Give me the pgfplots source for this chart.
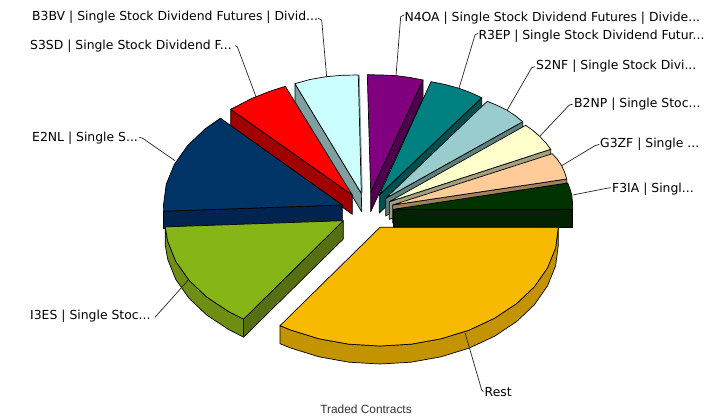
\documentclass[border=0pt]{standalone}
\usepackage{fontspec}
\setmainfont{DejaVu Sans}
\newfontfamily\arialf{Liberation Sans}
\usepackage{pgfplots}
\pgfplotsset{compat=1.18}
\definecolor{purS}{RGB}{80,0,80}\definecolor{purT}{RGB}{128,0,128}
\definecolor{teaS}{RGB}{0,80,80}\definecolor{teaT}{RGB}{0,128,128}
\definecolor{ltS}{RGB}{96,128,128}\definecolor{ltT}{RGB}{153,204,204}
\definecolor{crS}{RGB}{160,160,128}\definecolor{crT}{RGB}{255,255,204}
\definecolor{peS}{RGB}{160,128,96}\definecolor{peT}{RGB}{255,204,153}
\definecolor{dgS}{RGB}{0,34,0}\definecolor{dgT}{RGB}{0,51,0}
\definecolor{cyS}{RGB}{126,160,160}\definecolor{cyT}{RGB}{204,255,255}
\definecolor{reS}{RGB}{160,0,0}\definecolor{reT}{RGB}{255,0,0}
\definecolor{naS}{RGB}{0,35,79}\definecolor{naT}{RGB}{0,51,102}
\definecolor{grA}{RGB}{110,143,20}\definecolor{grS}{RGB}{86,111,16}\definecolor{grT}{RGB}{134,181,23}
\definecolor{goS}{RGB}{196,147,0}\definecolor{goT}{RGB}{248,186,0}
\pgfplotsset{face/.style={draw=black,line width=0.7pt,line join=round,fill=#1,no markers},
leader/.style={draw=black!85,line width=0.7pt,line join=round,no markers}}
\newcommand{\lab}[3]{\node[anchor=west,inner sep=0pt,font=\fontsize{12.4}{14}\selectfont,text=black] at (axis cs:#1,#2) {#3};}
\begin{document}
\begin{tikzpicture}
\path[use as bounding box] (0,0) rectangle (721pt,419pt);
\begin{axis}[scale only axis,width=721pt,height=419pt,xmin=0,xmax=721,ymin=0,ymax=419,y dir=reverse,hide axis,clip=false]
% N4OA
\addplot[face=purS] coordinates {(423,80)(423,98)(370.7,211.7)(370.7,192.3)} --cycle;
\addplot[face=purT] coordinates {(370.7,192.3)(367.3,74.7)(382,75)(396.7,75.7)(410,77.5)(423,80)} --cycle;
% R3EP
\addplot[face=teaS] coordinates {(481.7,97.7)(481.7,115.7)(379.3,213)(379.3,195)} --cycle;
\addplot[face=teaT] coordinates {(379.3,195)(431,81.7)(445,84.5)(459,88.3)(471,92.8)(481.7,97.7)} --cycle;
% S2NF
\addplot[face=ltS] coordinates {(522.7,121.7)(522.7,139)(385.7,216)(385.7,198.3)} --cycle;
\addplot[face=ltT] coordinates {(385.7,198.3)(487.3,101.3)(497,105.3)(506.7,110)(515,115.5)(522.7,121.7)} --cycle;
% B2NP
\addplot[face=crS] coordinates {(550.7,149.3)(550.7,167)(389.3,219.3)(389.3,201.7)} --cycle;
\addplot[face=crT] coordinates {(389.3,201.7)(525.7,125.3)(533,130.5)(540,136.7)(546,143)(550.7,149.3)} --cycle;
% G3ZF
\addplot[face=peS] coordinates {(566.7,179)(566.7,197)(392.7,223)(392.7,205)} --cycle;
\addplot[face=peT] coordinates {(392.7,205)(552.3,153.7)(557.5,159.5)(561.7,165.7)(564.5,172)(566.7,179)} --cycle;
% F3IA
\addplot[face=dgS] coordinates {(393.3,209.3)(572.7,209.3)(572.7,227.3)(393.3,227.3)} --cycle;
\addplot[face=dgT] coordinates {(393.3,209.3)(567.7,183)(570,189)(571.7,195)(572.5,202)(572.7,209.3)} --cycle;
% B3BV
\addplot[face=cyS] coordinates {(295,83.7)(361.3,193.3)(361.7,211.7)(295,102)} --cycle;
\addplot[draw=cyS,line width=1.4pt,no markers] coordinates {(359,75)(362,193)};
\addplot[face=cyT] coordinates {(361.3,193.3)(295,83.7)(310,79.5)(326,76.7)(342,75.3)(358.3,75)} --cycle;
% S3SD
\addplot[face=reS] coordinates {(230.7,109.3)(352.3,195)(352.3,214.3)(230.7,127.3)} --cycle;
\addplot[face=reT] coordinates {(352.3,195)(230.7,109.3)(251.3,98.7)(269.7,91.3)(285.3,86.3)} --cycle;
% E2NL
\addplot[face=naS] coordinates {(163.5,211.2)(342.3,205)(342.3,222)(163.5,228.7)} --cycle;
\addplot[face=naT] coordinates {(342.3,205)(220.4,118.2)(205.3,128.7)(187.5,145.7)(174.3,164.4)(166.2,184.4)(163.5,205)(163.7,211.2)} --cycle;
% I3ES
\addplot[face=grA] coordinates {(243.6,319.1)(228.7,311.6)(206.7,297)(188.9,280.1)(175.7,261.3)(167.7,241.3)(165.2,226.9)(165.2,244.9)(167.7,259.3)(175.7,279.3)(188.9,298.1)(206.7,315)(228.7,329.6)(243.6,337.1)} --cycle;
\addplot[face=grS] coordinates {(243.6,319.1)(343.3,220.7)(343.3,239)(243.6,337.1)} --cycle;
\addplot[face=grT] coordinates {(343.3,220.7)(165.2,226.9)(167.7,241.3)(175.7,261.3)(188.9,280.1)(206.7,297)(228.7,311.6)(243.6,319.1)} --cycle;
% Rest
\addplot[face=goS] coordinates {(558.3,227.3)(555.6,247.9)(547.5,267.9)(534.4,286.7)(516.6,303.6)(494.6,318.2)(469.2,330.1)(441,338.8)(411,344.2)(380,346)(349,344.2)(319,338.8)(290.9,330.1)(280,325.7)(280,343.7)(290.9,348.1)(319,356.8)(349,362.2)(380,364)(411,362.2)(441,356.8)(469.2,348.1)(494.6,336.2)(516.6,321.6)(534.4,304.7)(547.5,285.9)(555.6,265.9)(558.3,245.3)} --cycle;
\addplot[face=goT] coordinates {(380,227.3)(558.3,227.3)(555.6,247.9)(547.5,267.9)(534.4,286.7)(516.6,303.6)(494.6,318.2)(469.2,330.1)(441,338.8)(411,344.2)(380,346)(349,344.2)(319,338.8)(290.9,330.1)(280,325.7)} --cycle;
% leaders
\addplot[leader] coordinates {(318.3,18.3)(321.7,20)(326.7,77.3)};
\addplot[leader] coordinates {(235,45.7)(237.3,46.7)(256,96.7)};
\addplot[leader] coordinates {(139.3,137.3)(142.7,138.3)(175,160.7)};
\addplot[leader] coordinates {(155,317.3)(188.3,280)};
\addplot[leader] coordinates {(465,332.7)(481.7,390)(483.3,391.7)};
\addplot[leader] coordinates {(404,15)(400.7,16.7)(396,76)};
\addplot[leader] coordinates {(478.3,33.3)(475,35)(459,88.3)};
\addplot[leader] coordinates {(535,66.7)(531.7,67.7)(507.3,110)};
\addplot[leader] coordinates {(572.7,104.3)(569.3,105)(540,136)};
\addplot[leader] coordinates {(599.3,144.3)(595,145.7)(561.7,165.7)};
\addplot[leader] coordinates {(610.7,187.7)(606.7,188.3)(572.7,195)};
% labels
\lab{32}{17.7}{B3BV | Single Stock Dividend Futures | Divid...}
\lab{30}{46}{S3SD | Single Stock Dividend F...}
\lab{32}{138}{E2NL | Single S...}
\lab{30}{316.5}{I3ES | Single Stoc...}
\lab{484.5}{392}{Rest}
\lab{404.3}{18}{N4OA | Single Stock Dividend Futures | Divide...}
\lab{478.3}{36}{R3EP | Single Stock Dividend Futur...}
\lab{536}{66}{S2NF | Single Stock Divi...}
\lab{574}{104}{B2NP | Single Stoc...}
\lab{600}{144}{G3ZF | Single ...}
\lab{612}{189}{F3IA | Singl...}
\node[anchor=center,inner sep=0pt,font=\arialf\fontsize{11.9}{13}\selectfont,text=black!80] at (axis cs:366,409.5) {Traded Contracts};
\end{axis}
\end{tikzpicture}
\end{document}
